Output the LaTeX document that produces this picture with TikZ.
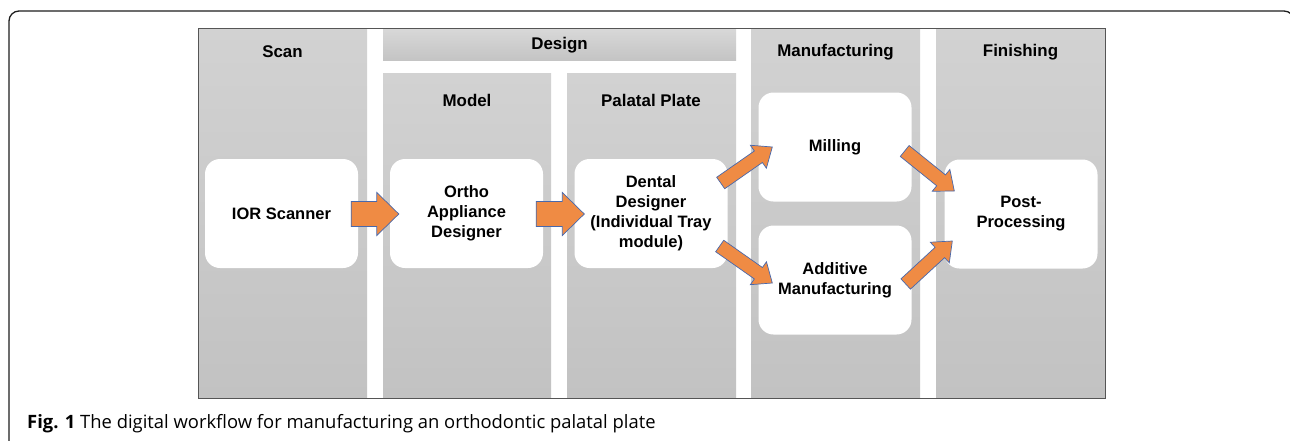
\documentclass[tikz,border=0pt]{standalone}
\usepackage{fontspec}
\setmainfont{Liberation Sans}
\newfontfamily\capfont{Open Sans}
\usetikzlibrary{calc}

\definecolor{laneTop}{RGB}{210,210,210}
\definecolor{laneBot}{RGB}{194,194,194}
\definecolor{headTop}{RGB}{216,216,216}
\definecolor{headBot}{RGB}{196,196,196}
\definecolor{laneEdge}{RGB}{85,85,85}
\definecolor{frameEdge}{RGB}{30,30,30}
\definecolor{flowOrange}{RGB}{239,139,68}
\definecolor{flowEdge}{RGB}{72,104,172}

\tikzset{
  lane/.style={top color=laneTop, bottom color=laneBot, draw=none},
  designhead/.style={top color=headTop, bottom color=headBot, draw=none},
  lanetitle/.style={font=\fontsize{16.9}{20}\selectfont\bfseries, inner sep=0pt},
  stage/.style={fill=white, rounded corners=15pt, minimum width=153pt,
    minimum height=109pt, inner sep=0pt, align=center,
    font=\fontsize{16.5}{20}\selectfont\bfseries},
  flow/.style={fill=flowOrange, draw=flowEdge, line width=0.7pt, line join=miter},
}

% block arrow: tail, tip, shaft half-width, head half-width, head length
\newcommand\flowarrow[5]{%
  \coordinate (fh) at ($(#2)!#5!(#1)$);
  \path[flow] ($(#1)!#3!90:(#2)$) -- ($(fh)!#3!90:(#2)$) -- ($(fh)!#4!90:(#2)$)
    -- (#2) -- ($(fh)!#4!-90:(#2)$) -- ($(fh)!#3!-90:(#2)$)
    -- ($(#1)!#3!-90:(#2)$) -- cycle;
}

\begin{document}
\begin{tikzpicture}[x=1pt, y=-1pt]
\useasboundingbox (0,0) rectangle (1290,440);
\fill[white] (0,0) rectangle (1290,440);

% figure frame
\draw[frameEdge, line width=1.3pt, rounded corners=10pt]
  (9,470) -- (9,11) -- (1294,11) -- (1294,470);

% workflow area and lanes
\fill[white] (198,28) rectangle (1105,398);
\path[lane] (198,28) rectangle (367,398);
\path[designhead] (383,29) rectangle (736,60);
\path[lane] (383,73) rectangle (551,398);
\path[lane] (567,73) rectangle (736,398);
\path[lane] (751,28) rectangle (920,398);
\path[lane] (936,28) rectangle (1105,398);
\draw[laneEdge, line width=0.9pt] (198,28) rectangle (1105,398);

% lane titles
\node[lanetitle] (tscan)   at (282.5,52) {Scan};
\node[lanetitle] (tdesign) at (559.5,45) {Design};
\node[lanetitle] (tmodel)  at (467,100) {Model};
\node[lanetitle] (tplate)  at (651,100) {Palatal Plate};
\node[lanetitle] (tmanu)   at (835.5,52) {Manufacturing};
\node[lanetitle] (tfin)    at (1020.5,52) {Finishing};

% process steps
\node[stage] (ior)      at (281.5,213.5) {IOR Scanner};
\node[stage] (ortho)    at (466.5,213.5) {Ortho\\Appliance\\Designer};
\node[stage] (dental)   at (651,213.5) {Dental\\Designer\\(Individual Tray\\module)};
\node[stage] (milling)  at (835,147) {Milling};
\node[stage] (additive) at (835,280) {Additive\\Manufacturing};
\node[stage] (post)     at (1021,214) {Post-\\Processing};

% connectors
\coordinate (a1t) at ($(ior.east)+(-7,0.5)$);
\coordinate (a1h) at ($(ortho.west)+(9,0.5)$);
\coordinate (a2t) at ($(ortho.east)+(-7,0.5)$);
\coordinate (a2h) at ($(dental.west)+(10,0.5)$);
\coordinate (a3t) at ($(dental.east)+(-7,-30.5)$);
\coordinate (a3h) at ($(milling.west)+(14,0)$);
\coordinate (a4t) at ($(dental.east)+(-8,32.5)$);
\coordinate (a4h) at ($(additive.west)+(14,3)$);
\coordinate (a5t) at ($(milling.east)+(-7,4)$);
\coordinate (a5h) at ($(post.west)+(10,-23)$);
\coordinate (a6t) at ($(additive.east)+(-6,4)$);
\coordinate (a6h) at ($(post.west)+(8,27)$);

\flowarrow{a1t}{a1h}{12.5pt}{21.5pt}{22pt}
\flowarrow{a2t}{a2h}{12.5pt}{21.5pt}{22pt}
\flowarrow{a3t}{a3h}{7pt}{14pt}{17pt}
\flowarrow{a4t}{a4h}{7pt}{14pt}{17pt}
\flowarrow{a5t}{a5h}{7pt}{14pt}{17pt}
\flowarrow{a6t}{a6h}{7pt}{14pt}{17pt}

% caption
\node[anchor=base west, inner sep=0pt, font=\capfont\fontsize{18.4}{22}\selectfont]
  (caption) at (27,428) {\textbf{Fig. 1} The digital workflow for manufacturing an orthodontic palatal plate};
\end{tikzpicture}
\end{document}
